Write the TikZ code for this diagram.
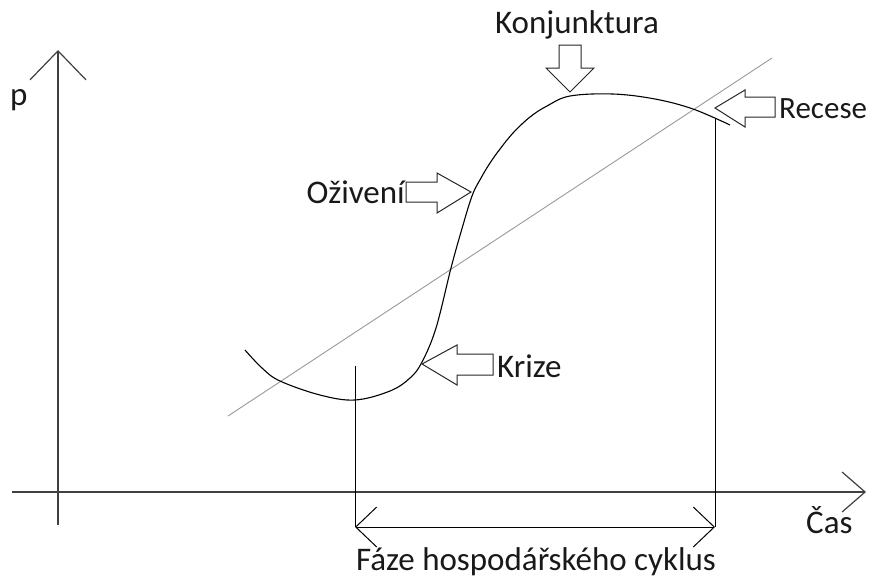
\documentclass[tikz,border=0pt]{standalone}
\usepackage{fontspec}
\setmainfont{Carlito}
\usetikzlibrary{arrows.meta}
\begin{document}
\begin{tikzpicture}[x=1pt,y=-1pt,
  axis/.style={draw=black!75,line width=1.4pt},
  lbl/.style={font=\fontsize{33}{35}\selectfont,text=black!90,inner sep=0pt},
  blockarrow/.style={draw=black!85,line width=1pt,fill=white},
  guide/.style={draw=black,line width=1pt}]
\useasboundingbox (0,0) rectangle (872,579);
% axes
\coordinate (yb) at (58,525);
\coordinate (yt) at (58,50);
\coordinate (xl) at (12,492);
\coordinate (xr) at (866,492);
\draw[axis,-{Straight Barb[length=29pt,width=56pt,line width=1.2pt]}] (yb) -- (yt);
\draw[axis,-{Straight Barb[length=23pt,width=40pt,line width=1.2pt]}] (xl) -- (xr);
\node[lbl,anchor=west] (p) at (10,100) {p};
\node[lbl,anchor=west] (cas) at (806,520) {Čas};
% trend line
\coordinate (t1) at (228,416);
\coordinate (t2) at (772,58);
\draw[draw=black!40,line width=0.9pt] (t1) -- (t2);
% cycle curve
\draw[black,line width=1.1pt] plot[smooth,tension=0.6] coordinates {
 (245,350) (262,368) (280,381) (320,395) (355,400) (390,391) (410,378) (422,362)
 (436,328) (451,268) (461,232) (472,196) (481,178) (490,163) (500,149) (513,133)
 (530,117) (547,106) (570,96) (613,94) (655,99) (693,109) (730,125)};
% verticals
\coordinate (v1t) at (355,366);
\coordinate (v1b) at (355,527);
\coordinate (v2t) at (715,118);
\coordinate (v2b) at (715,527);
\draw[guide] (v1t) -- (v1b);
\draw[guide] (v2t) -- (v2b);
\draw[guide,{Straight Barb[length=21pt,width=40pt,line width=1pt]}-{Straight Barb[length=21pt,width=40pt,line width=1pt]}] (v1b) -- (v2b);
\node[lbl,anchor=center] (faze) at (536,562) {Fáze hospodářského cyklus};
% block arrows
% Konjunktura (down)
\draw[blockarrow] (559,45) -- (581,45) -- (581,68) -- (594,68) -- (570,92) -- (546,68) -- (559,68) -- cycle;
\node[lbl,anchor=center] (konj) at (577,25) {Konjunktura};
% Recese (left)
\draw[blockarrow] (775,97) -- (745,97) -- (745,90) -- (715,108) -- (745,127) -- (745,117) -- (775,117) -- cycle;
\node[lbl,anchor=west,font=\fontsize{31}{33}\selectfont] (rec) at (779,109) {Recese};
% Oziveni (right)
\draw[blockarrow] (406,182) -- (437,182) -- (437,173) -- (471,192) -- (437,213) -- (437,202) -- (406,202) -- cycle;
\node[lbl,anchor=east] (ozi) at (405,192) {Oživení};
% Krize (left)
\draw[blockarrow] (493,354) -- (457,354) -- (457,345) -- (422,364) -- (457,385) -- (457,375) -- (493,375) -- cycle;
\node[lbl,anchor=west] (kri) at (497,366) {Krize};
\end{tikzpicture}
\end{document}
